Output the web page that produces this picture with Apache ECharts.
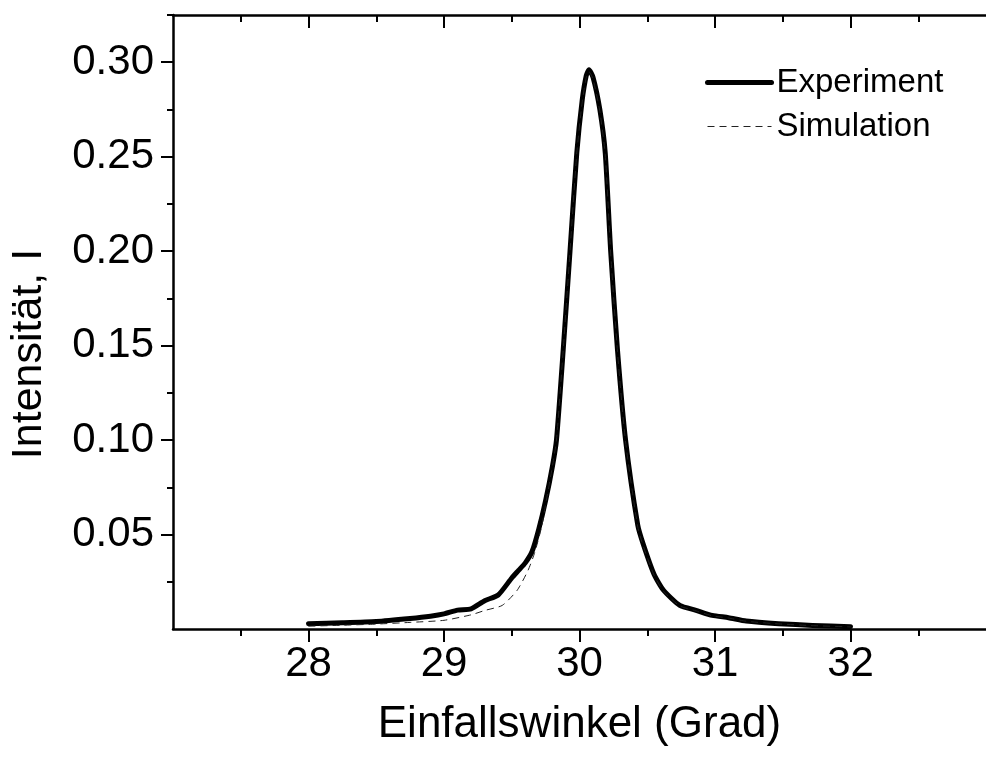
<!DOCTYPE html>
<html>
<head>
<meta charset="utf-8">
<script src="https://cdn.jsdelivr.net/npm/echarts@6/dist/echarts.min.js"></script>
<style>
  html, body { margin: 0; padding: 0; background: #fff; }
  #chart { width: 986px; height: 758px; }
</style>
</head>
<body>
<div id="chart"></div>
<script>
// Einfallswinkel (Grad)
var expX = [28.0, 28.25, 28.5, 28.75, 28.9, 29.0, 29.1, 29.2, 29.3, 29.4, 29.5, 29.55, 29.6, 29.65, 29.7, 29.75, 29.8, 29.83, 29.88, 29.93, 29.98, 30.02, 30.05, 30.07, 30.1, 30.15, 30.19, 30.23, 30.28, 30.34, 30.43, 30.47, 30.55, 30.62, 30.74, 30.86, 30.98, 31.1, 31.23, 31.47, 31.72, 32.0];
var expY = [0.0028, 0.0033, 0.0040, 0.0056, 0.0068, 0.0080, 0.0100, 0.0107, 0.0150, 0.0180, 0.0270, 0.0310, 0.0350, 0.0410, 0.0530, 0.0680, 0.0860, 0.1000, 0.1480, 0.2000, 0.2520, 0.2800, 0.2930, 0.2960, 0.2920, 0.2750, 0.2520, 0.2000, 0.1480, 0.1000, 0.0550, 0.0450, 0.0290, 0.0205, 0.0125, 0.0099, 0.0072, 0.0060, 0.0042, 0.0028, 0.0019, 0.0012];

var simX = [28.0, 28.25, 28.5, 28.75, 29.0, 29.2, 29.3, 29.43, 29.54, 29.62, 29.67, 29.72, 29.75, 29.8, 29.83, 29.88, 29.93, 29.98, 30.02, 30.05, 30.07, 30.1, 30.15, 30.19, 30.23, 30.28, 30.34, 30.43, 30.47, 30.55, 30.62, 30.74, 30.86, 30.98, 31.1, 31.23, 31.47, 31.72, 32.0];
var simY = [0.0015, 0.0020, 0.0026, 0.0035, 0.0046, 0.0075, 0.0098, 0.0125, 0.0205, 0.0310, 0.0406, 0.0540, 0.0660, 0.0860, 0.1000, 0.1480, 0.2000, 0.2520, 0.2790, 0.2920, 0.2950, 0.2910, 0.2740, 0.2510, 0.1990, 0.1470, 0.0990, 0.0540, 0.0440, 0.0285, 0.0200, 0.0122, 0.0096, 0.0070, 0.0058, 0.0041, 0.0027, 0.0018, 0.0011];

var xTicks = [28, 29, 30, 31, 32];
var yTicks = [0.05, 0.10, 0.15, 0.20, 0.25, 0.30];
var yMinorTicks = [0.025, 0.075, 0.125, 0.175, 0.225, 0.275, 0.325];

function pairs(xs, ys) {
  return xs.map(function (x, i) { return [x, ys[i]]; });
}

var font = '"Liberation Sans", Arial, sans-serif';
var axisLine = { show: true, onZero: false, lineStyle: { color: '#000', width: 2.5 } };

var chart = echarts.init(document.getElementById('chart'));
chart.setOption({
  animation: false,
  backgroundColor: '#fff',
  grid: { left: 173, top: 15, width: 823, height: 614 },
  legend: {
    orient: 'vertical',
    left: 700,
    top: 61,
    itemWidth: 64,
    itemHeight: 14,
    itemGap: 11,
    textStyle: { fontFamily: font, fontSize: 33, color: '#000' },
    itemStyle: { opacity: 0 },
    data: [
      { name: 'Experiment', lineStyle: { color: '#000', width: 5, type: 'solid' } },
      { name: 'Simulation', lineStyle: { color: '#222', width: 1, type: [7, 5] } }
    ]
  },
  xAxis: [
    {
      type: 'value',
      position: 'bottom',
      min: 27, max: 33, interval: 1,
      name: 'Einfallswinkel (Grad)',
      nameLocation: 'middle',
      nameGap: 74,
      nameTextStyle: { fontFamily: font, fontSize: 44, color: '#000' },
      axisLine: axisLine,
      axisTick: { show: true, inside: false, length: 13, customValues: xTicks, lineStyle: { color: '#000', width: 2 } },
      minorTick: { show: true, splitNumber: 2, length: 7, lineStyle: { color: '#000', width: 2 } },
      axisLabel: { customValues: xTicks, margin: 14, fontFamily: font, fontSize: 42, color: '#000' },
      splitLine: { show: false }
    },
    {
      type: 'value',
      position: 'top',
      min: 27, max: 33, interval: 1,
      axisLine: axisLine,
      axisTick: { show: true, inside: true, length: 13, customValues: xTicks, lineStyle: { color: '#000', width: 2 } },
      minorTick: { show: true, splitNumber: 2, length: 7, lineStyle: { color: '#000', width: 2 } },
      axisLabel: { show: false },
      splitLine: { show: false }
    }
  ],
  yAxis: [
    {
      type: 'value',
      position: 'left',
      min: 0, max: 0.325, interval: 0.05,
      name: 'Intensität, I',
      nameLocation: 'middle',
      nameGap: 122,
      nameTextStyle: { fontFamily: font, fontSize: 43, color: '#000', padding: [0, 64, 0, 0] },
      axisLine: axisLine,
      axisTick: { show: true, inside: false, length: 12, customValues: yTicks, lineStyle: { color: '#000', width: 2 } },
      axisLabel: {
        customValues: yTicks, margin: 19, fontFamily: font, fontSize: 42, color: '#000',
        formatter: function (v) { return v.toFixed(2); }
      },
      splitLine: { show: false }
    },
    {
      type: 'value',
      position: 'left',
      min: 0, max: 0.325, interval: 0.025,
      axisLine: { show: false },
      axisTick: { show: true, inside: false, length: 6, customValues: yMinorTicks, lineStyle: { color: '#000', width: 2 } },
      axisLabel: { show: false },
      splitLine: { show: false }
    }
  ],
  series: [
    {
      name: 'Experiment',
      type: 'line',
      data: pairs(expX, expY),
      symbol: 'none',
      smooth: 0.2,
      z: 3,
      lineStyle: { color: '#000', width: 5, join: 'round', cap: 'round' },
      itemStyle: { color: '#000' }
    },
    {
      name: 'Simulation',
      type: 'line',
      data: pairs(simX, simY),
      symbol: 'none',
      smooth: 0.2,
      z: 4,
      lineStyle: { color: '#222', width: 1, type: [7, 5] },
      itemStyle: { color: '#222' }
    }
  ]
});
</script>
</body>
</html>
